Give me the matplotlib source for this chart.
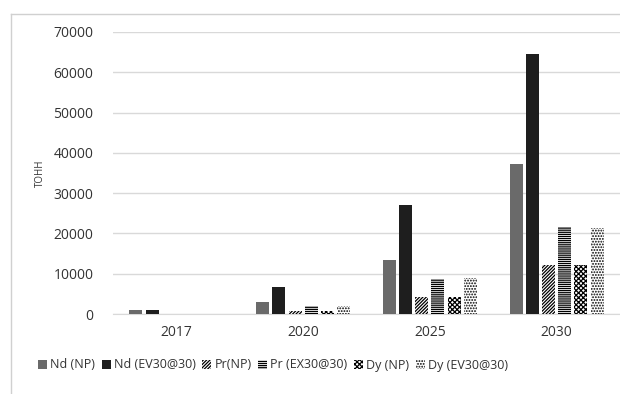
import matplotlib
matplotlib.use("Agg")
import matplotlib.pyplot as plt
import numpy as np
from matplotlib.lines import Line2D

plt.rcParams['font.family'] = ['Open Sans', 'DejaVu Sans']
plt.rcParams['hatch.linewidth'] = 0.9

years = ["2017", "2020", "2025", "2030"]
series_names = ["Nd (NP)", "Nd (EV30@30)", "Pr(NP)", "Pr (EX30@30)", "Dy (NP)", "Dy (EV30@30)"]
nd_np = [1000, 2900, 13400, 37200]
nd_ev = [1000, 6700, 27000, 64600]
pr_np = [0, 800, 4300, 12200]
pr_ex = [0, 2100, 8600, 21500]
dy_np = [0, 700, 4300, 12200]
dy_ev = [0, 2100, 8900, 21300]
values = [nd_np, nd_ev, pr_np, pr_ex, dy_np, dy_ev]
y_ticks = [0, 10000, 20000, 30000, 40000, 50000, 60000, 70000]

faces = ["#6a6a6a", "#1e1e1e", "white", "white", "white", "white"]
hatches = [None, None, "//////////", "--------", "xxxxxxx", "......"]

fig = plt.figure(figsize=(6.2, 3.94), dpi=100)
ax = fig.add_axes([113/620, 1-314/394, 507/620, (314-32)/394])

x = np.arange(len(years))
pitch = 0.1276
width = 0.102
for i, (vals, fc, h) in enumerate(zip(values, faces, hatches)):
    off = (i - 2.5) * pitch
    ax.bar(x + off, vals, width=width, color=fc, hatch=h,
           edgecolor="black" if h else fc, linewidth=0,
           label=series_names[i], zorder=3)

ax.set_xlim(-0.5, 3.5)
ax.set_ylim(0, 70000)
ax.set_yticks(y_ticks)
ax.set_yticklabels([str(v) for v in y_ticks], fontsize=10, color="#333333")
ax.set_xticks(x)
ax.set_xticklabels(years, fontsize=10, color="#333333")
ax.tick_params(length=0, pad=14)
ax.tick_params(axis='x', pad=8)
ax.grid(axis='y', color="#d9d9d9", linewidth=1, zorder=0)
for s in ["top", "right", "left"]:
    ax.spines[s].set_visible(False)
ax.spines["bottom"].set_color("#d9d9d9")
ax.set_ylabel("ТОНН", fontsize=7, color="#333333")
ax.yaxis.set_label_coords(-0.132, 0.5)

handles, labels = ax.get_legend_handles_labels()
fig.legend(handles, labels, loc="center", bbox_to_anchor=(273/620, 1-365/394),
           ncol=6, frameon=False, fontsize=9.0, handlelength=0.7, handleheight=0.7,
           handletextpad=0.25, columnspacing=0.55, labelcolor="#333333")

# outer chart frame
fig.add_artist(Line2D([11/620, 11/620], [0, 1-14/394], color="#d0d0d0", lw=1, transform=fig.transFigure))
fig.add_artist(Line2D([11/620, 1], [1-14/394, 1-14/394], color="#d0d0d0", lw=1, transform=fig.transFigure))

fig.savefig("out.png", dpi=100)
